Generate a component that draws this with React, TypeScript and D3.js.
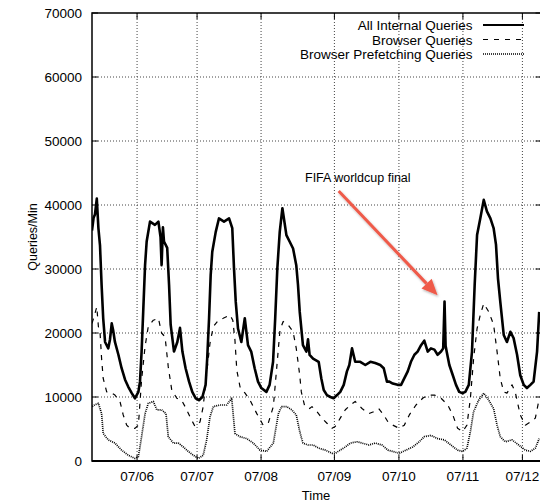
import React from "react";
import * as d3 from "d3";

// hours since start of the trace, queries per minute
const allInternal: [number, number][] = [
  [0, 36000], [0.6, 38000], [1.1, 38500], [1.8, 41000], [2.4, 36400], [3.0, 33700],
  [3.6, 27500], [4.2, 22300], [4.9, 18600], [6.1, 17600], [6.75, 19000], [7.4, 21500],
  [7.9, 20500], [8.6, 18600], [9.9, 16600], [11.1, 14500], [12.4, 12700], [13.6, 11600],
  [14.9, 10600], [16.1, 9800], [17.4, 10800], [18.0, 12400], [18.6, 17100], [19.2, 23300],
  [19.9, 30600], [20.5, 34300], [21.75, 37400], [23.6, 36900], [24.9, 37400], [25.7, 35000],
  [26.1, 30600], [26.6, 36500], [27.0, 34300], [28.2, 33300], [28.9, 27500], [29.5, 21300],
  [30.75, 17100], [32.0, 18600], [33.0, 20800], [33.9, 17100], [35.1, 14500], [36.4, 12400],
  [37.6, 10800], [38.9, 9800], [40.1, 9500], [41.4, 10000], [42.6, 11900], [43.2, 16000],
  [43.9, 22300], [44.5, 29000], [45.1, 32700], [46.4, 35800], [47.6, 37900], [49.5, 37400],
  [51.4, 37900], [52.6, 36400], [53.25, 30100], [53.9, 24900], [54.75, 20700], [56.0, 18600],
  [57.3, 22300], [58.5, 18100], [59.7, 17100], [61.0, 14500], [62.25, 12400], [63.5, 11400],
  [65.4, 10800], [66.6, 11900], [67.9, 15500], [68.7, 22300], [69.5, 30100], [70.4, 35800],
  [71.4, 39500], [72.9, 35300], [74.1, 34300], [75.4, 33200], [76.6, 30600], [77.25, 27500],
  [77.9, 23300], [79.1, 18100], [80.4, 17100], [81.0, 19000], [81.6, 16600], [82.9, 16000],
  [85.0, 15500], [86.0, 12900], [86.9, 11100], [88.1, 10300], [89.4, 10000], [90.6, 9800],
  [91.9, 10300], [93.1, 10800], [94.4, 11900], [95.6, 14000], [96.5, 15000], [97.5, 17600],
  [98.7, 15500], [100.6, 15500], [102.5, 15000], [104.4, 15500], [106.2, 15300], [108.1, 15000],
  [109.4, 14500], [110.6, 12400], [111.5, 12400], [112.8, 12100], [114.6, 11900], [115.9, 11900],
  [117.1, 12900], [118.4, 14000], [119.6, 15500], [120.9, 16600], [122.1, 17100], [123.4, 18100],
  [124.6, 18800], [125.9, 17100], [127.1, 17600], [128.4, 17400], [129.6, 16600], [130.9, 17100],
  [131.7, 17600], [132.2, 24900], [132.6, 18000], [133.0, 17100], [134.0, 15000], [135.3, 13400],
  [136.5, 11900], [137.7, 10800], [139.0, 10600], [140.0, 10800], [141.3, 11900], [142.5, 17100],
  [143.5, 27500], [144.4, 35300], [145.6, 37900], [146.9, 40800], [148.1, 39000], [149.4, 37900],
  [150.6, 36400], [151.5, 33800], [152.25, 28500], [153.1, 24900], [154.4, 19700], [155.6, 18600],
  [156.9, 20200], [158.1, 19200], [159.4, 16600], [160.6, 13400], [161.9, 11900], [163.1, 11400],
  [164.4, 11900], [165.6, 12400], [166.9, 17100], [167.7, 23300],
];

const browser: [number, number][] = [
  [0, 21500], [0.75, 22500], [1.8, 24100], [2.4, 21000], [3.0, 20200], [3.6, 16000],
  [4.2, 12900], [5.5, 10800], [6.75, 10800], [8.6, 10300], [10.5, 9300], [11.7, 7200],
  [13.0, 5600], [14.25, 5100], [16.1, 5100], [17.4, 5600], [18.6, 12700], [19.9, 17900],
  [21.1, 21000], [23.0, 22000], [24.9, 22300], [26.1, 20000], [27.4, 19400], [28.6, 14700],
  [29.9, 11100], [31.8, 9800], [33.6, 9500], [34.9, 8500], [36.75, 6900], [38.6, 5400],
  [40.5, 6100], [41.7, 8500], [43.0, 13700], [44.25, 18400], [45.5, 21000], [47.4, 22000],
  [49.2, 22300], [51.75, 22800], [52.8, 22000], [53.6, 18900], [54.3, 14200], [55.5, 11600],
  [57.4, 10600], [59.25, 9500], [61.8, 7400], [64.2, 5600], [66.1, 5900], [68.0, 8500],
  [69.3, 14700], [70.5, 20500], [71.7, 21800], [73.5, 21300], [75.4, 20200], [76.6, 17600],
  [77.9, 13400], [78.5, 10800], [79.8, 8500], [81.6, 8200], [82.5, 8500], [84.4, 7700],
  [86.25, 6700], [88.1, 5900], [90.0, 5100], [91.2, 5400], [93.1, 6700], [95.0, 8000],
  [96.9, 8750], [98.7, 9300], [101.25, 8200], [103.8, 7400], [105.6, 7700], [107.5, 8200],
  [109.4, 7200], [111.0, 6100], [112.8, 5600], [115.2, 5100], [117.1, 5600], [119.0, 7200],
  [121.5, 8750], [124.0, 9800], [125.9, 10300], [128.4, 10300], [130.9, 9800], [133.4, 8750],
  [135.3, 7200], [137.1, 5100], [139.0, 4600], [140.6, 5600], [141.9, 9800], [143.1, 16000],
  [144.4, 20700], [145.6, 22800], [146.9, 24600], [148.8, 23300], [150.6, 21300], [151.9, 17100],
  [153.1, 12900], [154.4, 10800], [155.6, 10600], [157.5, 11900], [158.7, 10800], [160.6, 7200],
  [162.5, 5600], [164.4, 6100], [166.25, 6700], [167.5, 9300],
];

const prefetch: [number, number][] = [
  [0.1, 8500], [1.1, 8800], [2.4, 9000], [3.6, 7400], [4.2, 4300], [6.1, 3300],
  [8.6, 2800], [11.1, 1700], [13.6, 900], [16.1, 400], [17.4, 700], [18.6, 3800],
  [19.9, 7400], [21.1, 9000], [23.0, 9300], [24.3, 8000], [26.1, 8000], [27.75, 7400],
  [28.6, 3800], [30.5, 2800], [32.4, 2800], [34.2, 2200], [36.1, 1500], [38.0, 900],
  [39.9, 400], [41.7, 900], [43.0, 3300], [44.25, 6900], [45.5, 8500], [48.0, 8750],
  [50.5, 8750], [52.4, 9800], [53.6, 4300], [55.5, 3800], [58.0, 3500], [60.5, 2800],
  [63.0, 1700], [65.5, 1500], [68.0, 2800], [69.9, 7400], [71.1, 8500], [73.0, 8500],
  [74.9, 8000], [76.6, 7200], [77.9, 4600], [79.1, 2800], [81.0, 2500], [82.9, 2500],
  [85.0, 2000], [87.5, 1700], [90.0, 1200], [91.2, 1200], [93.1, 1700], [95.0, 2200],
  [96.9, 2800], [99.4, 3000], [101.25, 2800], [103.8, 2500], [106.2, 2800], [108.75, 2500],
  [111.0, 1700], [112.8, 1500], [115.2, 1200], [117.75, 1700], [120.3, 2200], [122.7, 3000],
  [124.6, 3800], [127.1, 4000], [129.6, 3500], [132.1, 3300], [134.6, 2500], [137.1, 1700],
  [139.0, 1500], [140.6, 2000], [141.9, 4600], [143.1, 7700], [145.0, 9500], [146.9, 10600],
  [148.8, 9500], [150.6, 8200], [151.9, 5600], [153.1, 3800], [155.0, 3000], [157.5, 3300],
  [160.0, 2500], [162.5, 1700], [164.4, 1500], [166.25, 2000], [167.7, 3500],
];

const xTickHours = [16.9, 39.4, 63.4, 90.9, 115.1, 139.1, 161.4];
const xTickLabels = ["07/06", "07/07", "07/08", "07/09", "07/10", "07/11", "07/12"];
const yTicks = [0, 10000, 20000, 30000, 40000, 50000, 60000, 70000];
const legendLabels = ["All Internal Queries", "Browser Queries", "Browser Prefetching Queries"];

const W = 540;
const H = 502;
const margin = { top: 13, right: 0, bottom: 41, left: 92 };
const font = "'Liberation Sans', Arial, Helvetica, sans-serif";

export default function App() {
  const x = d3.scaleLinear().domain([0, 168]).range([margin.left, W - margin.right]);
  const y = d3.scaleLinear().domain([0, 70000]).range([H - margin.bottom, margin.top]);
  const line = d3
    .line<[number, number]>()
    .x(d => x(d[0]))
    .y(d => y(d[1]));

  const x0 = x.range()[0];
  const x1 = x.range()[1] + 1.5;
  const y0 = y.range()[0];
  const y1 = y.range()[1];

  const styles = [
    { width: 2.6, dash: "none" },
    { width: 1.2, dash: "5,6" },
    { width: 1.7, dash: "1,1" },
  ];
  const legendWidths = [2, 1.2, 1.4];
  const series = [allInternal, browser, prefetch];

  // arrow pointing at the worldcup final spike
  const ax0 = x(92.5), ay0 = y(42200);
  const ax1 = x(129.6), ay1 = y(25900);
  const ang = Math.atan2(ay1 - ay0, ax1 - ax0);
  const headLen = 16, headW = 7;
  const bx = ax1 - headLen * Math.cos(ang), by = ay1 - headLen * Math.sin(ang);
  const px = -Math.sin(ang) * headW, py = Math.cos(ang) * headW;

  return (
    <svg
      width={W}
      height={H}
      style={{ position: "absolute", left: 0, top: 0, background: "white" }}
      fontFamily={font}
    >
      <defs>
        <filter id="shadow" x="-20%" y="-20%" width="140%" height="140%">
          <feDropShadow dx="1" dy="1.5" stdDeviation="1.2" floodColor="#000" floodOpacity="0.3" />
        </filter>
        <clipPath id="plot">
          <rect x={x0} y={y1} width={x1 - x0} height={y0 - y1} />
        </clipPath>
      </defs>

      {/* grid */}
      {yTicks.slice(1, -1).map(t => (
        <line key={"gy" + t} x1={x0} x2={x1} y1={y(t)} y2={y(t)} stroke="#444" strokeWidth={1} strokeDasharray="1,2" />
      ))}
      {xTickHours.map(h => (
        <line key={"gx" + h} x1={x(h)} x2={x(h)} y1={y0} y2={y1} stroke="#444" strokeWidth={1} strokeDasharray="1,2" />
      ))}

      {/* ticks */}
      {yTicks.map(t => (
        <g key={"ty" + t}>
          <line x1={x0} x2={x0 + 6} y1={y(t)} y2={y(t)} stroke="#000" />
          <line x1={x1 - 6} x2={x1} y1={y(t)} y2={y(t)} stroke="#000" />
          <text x={x0 - 10} y={y(t) + 5} textAnchor="end" fontSize={13.5} fill="#000">
            {t}
          </text>
        </g>
      ))}
      {xTickHours.map((h, i) => (
        <g key={"tx" + h}>
          <line x1={x(h)} x2={x(h)} y1={y0} y2={y0 - 6} stroke="#000" />
          <line x1={x(h)} x2={x(h)} y1={y1} y2={y1 + 6} stroke="#000" />
          <text x={x(h)} y={y0 + 20} textAnchor="middle" fontSize={13.5} fill="#000">
            {xTickLabels[i]}
          </text>
        </g>
      ))}

      {/* series */}
      <g clipPath="url(#plot)">
        {series.map((s, i) => (
          <path
            key={"s" + i}
            d={line(s) || ""}
            fill="none"
            stroke="#000"
            strokeWidth={styles[i].width}
            strokeDasharray={styles[i].dash}
            strokeLinejoin="round"
          />
        ))}
      </g>

      {/* border */}
      <rect x={x0} y={y1} width={x1 - x0} height={y0 - y1} fill="none" stroke="#000" strokeWidth={1.5} />
      <line x1={x0} x2={x1} y1={y0} y2={y0} stroke="#000" strokeWidth={2} />

      {/* legend */}
      {legendLabels.map((l, i) => (
        <g key={"lg" + i}>
          <text x={472.5} y={30 + i * 14.5} textAnchor="end" fontSize={13.5} fill="#000">
            {l}
          </text>
          <line
            x1={483}
            x2={524}
            y1={25 + i * 14.5}
            y2={25 + i * 14.5}
            stroke="#000"
            strokeWidth={legendWidths[i]}
            strokeDasharray={styles[i].dash}
          />
        </g>
      ))}

      {/* axis titles */}
      <text x={316} y={500} textAnchor="middle" fontSize={13} fill="#000">
        Time
      </text>
      <text
        transform={`translate(37,${(y0 + y1) / 2}) rotate(-90)`}
        textAnchor="middle"
        fontSize={12.5}
        fill="#000"
      >
        Queries/Min
      </text>

      {/* annotation */}
      <text x={305} y={182} fontSize={12.5} fill="#000">
        FIFA worldcup final
      </text>
      <g filter="url(#shadow)">
        <line x1={ax0} y1={ay0} x2={bx} y2={by} stroke="#ef5a4a" strokeWidth={3} />
        <polygon
          points={`${ax1},${ay1} ${bx + px},${by + py} ${bx - px},${by - py}`}
          fill="#ef5a4a"
        />
      </g>
    </svg>
  );
}
